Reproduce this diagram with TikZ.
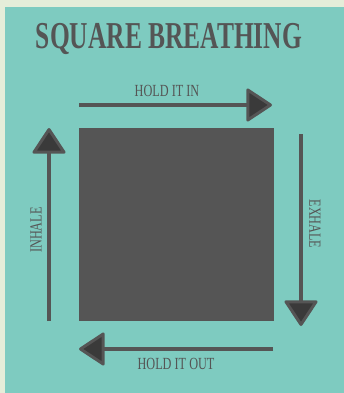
\documentclass[tikz,border=0pt]{standalone}
\usepackage{xcolor}
\usepackage{fontspec}
\setmainfont{Liberation Serif}
\usepackage{tikz}
\usetikzlibrary{arrows.meta}

\definecolor{cream}{HTML}{E5EDD9}
\definecolor{teal}{HTML}{7ECBC0}
\definecolor{ink}{HTML}{555555}
\definecolor{headink}{HTML}{3A3A3A}

\tikzset{
  breath/.style={ink, line width=4pt,
    -{Triangle[length=27pt,width=35pt,fill=headink,round,line width=3pt]}},
  lbl/.style={text=ink, inner sep=0pt, font=\fontsize{17}{17}\selectfont, xscale=0.72, transform shape}
}

\begin{document}
\begin{tikzpicture}[x=1pt,y=-1pt]
\useasboundingbox (0,0) rectangle (344,393);
\fill[cream] (0,0) rectangle (344,393);
\fill[teal] (5,7) rectangle (344,393);

\node[text=ink, inner sep=0pt, font=\fontsize{38}{38}\bfseries\selectfont, xscale=0.67, transform shape] (title) at (169,39) {SQUARE BREATHING};

\node[fill=ink, minimum width=195pt, minimum height=193pt, inner sep=0pt] (box) at (176.5,224.5) {};

% Arrows
\coordinate (inS) at (79,105);
\coordinate (inE) at (272,105);
\coordinate (exS) at (301,134);
\coordinate (exE) at (301,326);
\coordinate (outS) at (273,349);
\coordinate (outE) at (79,349);
\coordinate (inhS) at (49,321);
\coordinate (inhE) at (49,128);

\draw[breath] (inS) -- (inE);
\draw[breath] (exS) -- (exE);
\draw[breath] (outS) -- (outE);
\draw[breath] (inhS) -- (inhE);

\node[lbl] (holdin) at (167,91) {HOLD IT IN};
\node[lbl] (holdout) at (176,364) {HOLD IT OUT};
\node[rotate=90, lbl] (inhale) at (36,230) {INHALE};
\node[rotate=-90, lbl] (exhale) at (315,224) {EXHALE};
\end{tikzpicture}
\end{document}
